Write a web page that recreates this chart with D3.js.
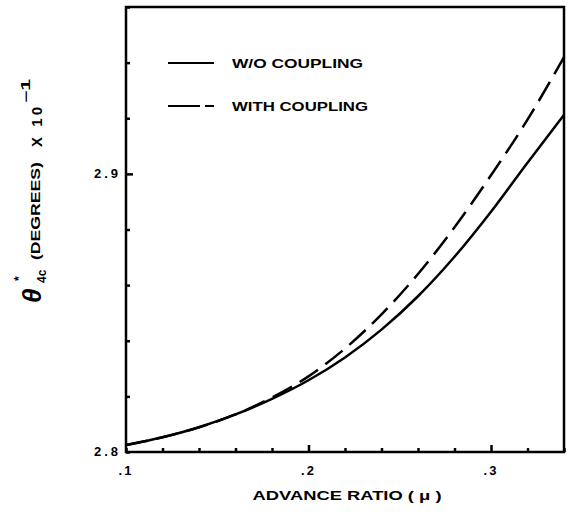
<!DOCTYPE html>
<html>
<head>
<meta charset="utf-8">
<script src="https://cdn.jsdelivr.net/npm/d3@7"></script>
<style>
  body { margin: 0; background: #fff; }
  text { font-family: "Liberation Sans", Arial, sans-serif; font-weight: bold; fill: #000; }
</style>
</head>
<body>
<div id="chart"></div>
<script>
// advance ratio values (x)
const mu = [0.10, 0.12, 0.14, 0.16, 0.18, 0.20, 0.22, 0.24, 0.26, 0.28, 0.30, 0.32, 0.34];
// theta values, x 10^-1 degrees
const woCoupling   = [2.8025, 2.8053, 2.8089, 2.8135, 2.8191, 2.8258, 2.8340, 2.8440, 2.8560, 2.8702, 2.8864, 2.9040, 2.9212];
const withCoupling = [2.8025, 2.8053, 2.8089, 2.8135, 2.8196, 2.8272, 2.8372, 2.8495, 2.8640, 2.8808, 2.8995, 2.9195, 2.9420];
const seriesNames = ["W/O COUPLING", "WITH COUPLING"];

const xTicks = [0.10, 0.12, 0.14, 0.16, 0.18, 0.20, 0.22, 0.24, 0.26, 0.28, 0.30, 0.32, 0.34];
const xTickLabels = { 0.1: ".1", 0.2: ".2", 0.3: ".3" };
const yTicks = [2.80, 2.82, 2.84, 2.86, 2.88, 2.90, 2.92, 2.94, 2.96];
const yTickLabels = { 2.8: "2.8", 2.9: "2.9" };

const width = 570, height = 521;
const margin = { top: 7, right: 6, bottom: 69, left: 126 };

const svg = d3.select("#chart").append("svg")
  .attr("width", width)
  .attr("height", height);

const x = d3.scaleLinear()
  .domain([0.10, 0.34])
  .range([margin.left, width - margin.right]);

const y = d3.scaleLinear()
  .domain([2.80, 2.96])
  .range([height - margin.bottom, margin.top]);

const isMajor = d => Math.abs(d * 10 - Math.round(d * 10)) < 1e-6;

// x axis, ticks pointing inward
const xAxis = svg.append("g")
  .attr("transform", `translate(0,${height - margin.bottom})`)
  .call(d3.axisBottom(x).tickValues(xTicks).tickSize(0).tickFormat(""));
xAxis.select(".domain").remove();
xAxis.selectAll(".tick line")
  .attr("y2", d => isMajor(d) && d > 0.15 ? -7 : -4)
  .attr("stroke", "#000")
  .attr("stroke-width", 2.5);

svg.append("g")
  .selectAll("text")
  .data(Object.keys(xTickLabels).map(Number))
  .join("text")
  .attr("x", d => x(d))
  .attr("y", height - margin.bottom + 23)
  .attr("text-anchor", "middle")
  .style("font-size", "13px")
  .style("letter-spacing", "2px")
  .text(d => xTickLabels[d]);

// y axis
const yAxis = svg.append("g")
  .attr("transform", `translate(${margin.left},0)`)
  .call(d3.axisLeft(y).tickValues(yTicks).tickSize(0).tickFormat(""));
yAxis.select(".domain").remove();
yAxis.selectAll(".tick line")
  .attr("x2", d => isMajor(d) && d > 2.85 ? 7 : 4)
  .attr("stroke", "#000")
  .attr("stroke-width", 2.5);

svg.append("g")
  .selectAll("text")
  .data(Object.keys(yTickLabels).map(Number))
  .join("text")
  .attr("x", margin.left - 5)
  .attr("y", d => y(d) + 4)
  .attr("text-anchor", "end")
  .style("font-size", "13px")
  .style("letter-spacing", "3px")
  .text(d => yTickLabels[d]);

// frame
svg.append("rect")
  .attr("x", x(0.10))
  .attr("y", y(2.96))
  .attr("width", x(0.34) - x(0.10))
  .attr("height", y(2.80) - y(2.96))
  .attr("fill", "none")
  .attr("stroke", "#000")
  .attr("stroke-width", 2.5);

// curves
const line = d3.line()
  .x((d, i) => x(mu[i]))
  .y(d => y(d))
  .curve(d3.curveMonotoneX);

const series = [
  { name: seriesNames[0], values: woCoupling, dash: null },
  { name: seriesNames[1], values: withCoupling, dash: "22,9" }
];

svg.append("g")
  .selectAll("path")
  .data(series)
  .join("path")
  .attr("d", d => line(d.values))
  .attr("fill", "none")
  .attr("stroke", "#000")
  .attr("stroke-width", 2.5)
  .attr("stroke-dasharray", d => d.dash);

// legend
const legendRows = svg.append("g")
  .selectAll("g")
  .data(series)
  .join("g")
  .attr("transform", (d, i) => `translate(168,${63 + i * 43})`);

legendRows.append("line")
  .attr("x1", 0)
  .attr("x2", 46)
  .attr("stroke", "#000")
  .attr("stroke-width", 2)
  .attr("stroke-dasharray", d => d.dash ? "32,5" : null);

legendRows.append("text")
  .attr("x", 64)
  .attr("y", 5)
  .style("font-size", "13px")
  .attr("textLength", (d, i) => i === 0 ? 131 : 136)
  .attr("lengthAdjust", "spacingAndGlyphs")
  .text(d => d.name);

// x axis title
svg.append("text")
  .attr("x", 347)
  .attr("y", 500)
  .attr("text-anchor", "middle")
  .style("font-size", "13px")
  .attr("textLength", 189)
  .attr("lengthAdjust", "spacingAndGlyphs")
  .text("ADVANCE RATIO ( \u03bc )");

// y axis title, rotated
const yTitle = svg.append("g")
  .attr("transform", "translate(41,303) rotate(-90)");

yTitle.append("text")
  .attr("x", 0)
  .attr("y", 0)
  .style("font-size", "26px")
  .style("font-style", "italic")
  .text("\u03b8");
yTitle.append("text")
  .attr("x", 22)
  .attr("y", -18)
  .style("font-size", "12px")
  .text("*");
yTitle.append("text")
  .attr("x", 20)
  .attr("y", 5)
  .style("font-size", "12px")
  .text("4c");
yTitle.append("text")
  .attr("x", 43)
  .attr("y", -1)
  .style("font-size", "12px")
  .attr("textLength", 98)
  .attr("lengthAdjust", "spacingAndGlyphs")
  .text("(DEGREES)");
yTitle.append("text")
  .attr("x", 156)
  .attr("y", 1)
  .style("font-size", "15px")
  .attr("textLength", 40)
  .attr("lengthAdjust", "spacing")
  .text("X 10");
yTitle.append("text")
  .attr("x", 200)
  .attr("y", -11)
  .style("font-size", "12px")
  .attr("textLength", 24)
  .attr("lengthAdjust", "spacingAndGlyphs")
  .text("\u22121");
</script>
</body>
</html>
